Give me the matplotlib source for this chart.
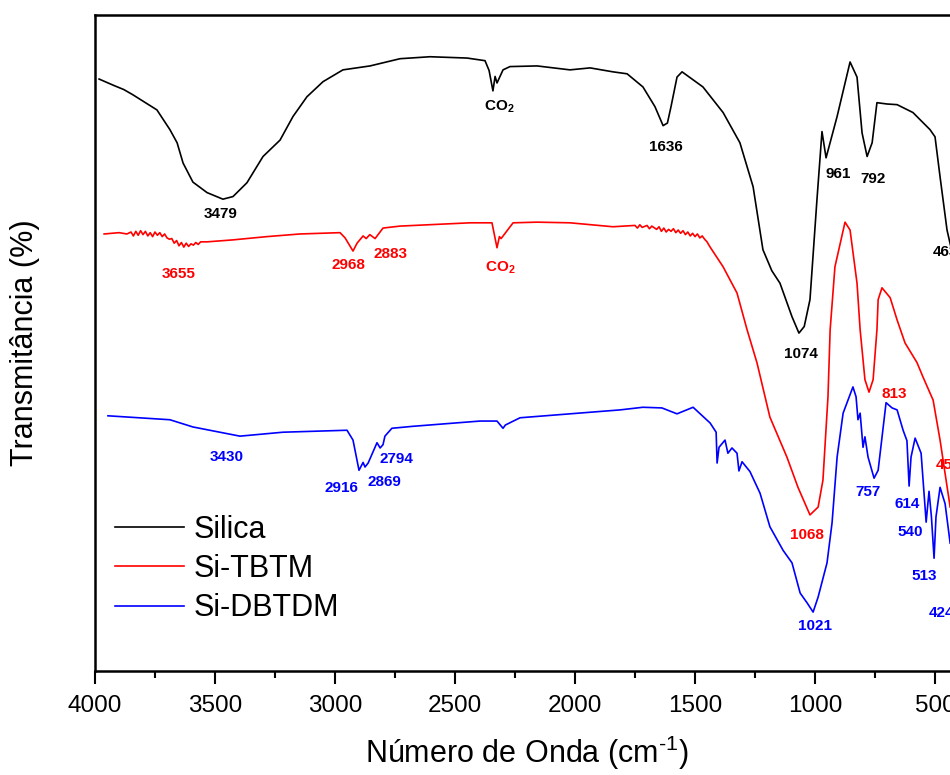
import numpy as np
import matplotlib
matplotlib.use("Agg")
import matplotlib.pyplot as plt
from matplotlib.ticker import MultipleLocator

plt.rcParams['font.family'] = ['Liberation Sans', 'DejaVu Sans']
plt.rcParams['mathtext.fontset'] = 'custom'
plt.rcParams['mathtext.rm'] = 'Liberation Sans'
plt.rcParams['mathtext.bf'] = 'Liberation Sans:bold'

# (wavenumber cm-1, transmittance in arbitrary %)
silica_pts = [
    (3983, 90.2), (3920, 89.2), (3880, 88.6), (3842, 87.8),
    (3742, 85.5), (3688, 82.5), (3658, 80.5), (3633, 77.4), (3592, 74.5), (3533, 72.9),
    (3467, 71.9), (3425, 72.3), (3367, 74.4), (3300, 78.4), (3229, 80.9), (3175, 84.5),
    (3117, 87.5), (3050, 89.8), (2967, 91.6), (2854, 92.2), (2729, 93.3), (2604, 93.6),
    (2450, 93.4), (2375, 93.0), (2358, 91.5), (2342, 88.4), (2333, 90.6), (2325, 89.6),
    (2300, 91.6), (2271, 92.1), (2158, 92.2), (2021, 91.6), (1937, 91.9), (1842, 91.3),
    (1783, 91.0), (1717, 89.0), (1667, 86.0), (1633, 83.1), (1615, 83.5), (1600, 86.0),
    (1575, 90.5), (1554, 91.3), (1467, 89.0), (1383, 85.1), (1313, 80.5), (1258, 73.8),
    (1217, 64.2), (1180, 61.0), (1146, 59.1), (1096, 54.0), (1067, 51.5), (1045, 52.5),
    (1021, 56.6), (992, 71.8), (971, 82.2), (954, 78.2), (908, 84.5), (854, 92.8),
    (825, 90.5), (804, 82.0), (783, 78.4), (762, 80.5), (742, 86.6), (700, 86.4),
    (658, 86.3), (592, 85.1), (521, 82.5), (500, 81.4), (479, 75.3), (450, 67.2), (430, 64.0),
]

tbtm_pts = [
    (3962, 66.6), (3900, 66.8), (3867, 66.6), (3850, 66.9), (3840, 66.3), (3830, 67.0),
    (3820, 66.4), (3810, 67.1), (3800, 66.5), (3790, 67.0), (3780, 66.3), (3770, 66.8),
    (3760, 66.2), (3750, 66.9), (3740, 66.4), (3730, 66.8), (3720, 66.2), (3710, 66.6),
    (3700, 66.0), (3690, 65.8), (3680, 65.9), (3670, 65.2), (3660, 65.6), (3650, 64.8),
    (3640, 65.3), (3630, 64.6), (3620, 65.2), (3610, 64.7), (3600, 65.1), (3590, 64.9),
    (3580, 65.3), (3570, 65.0), (3560, 65.4), (3533, 65.4), (3425, 65.7), (3283, 66.2),
    (3146, 66.6), (2979, 66.8), (2958, 66.0), (2925, 64.0), (2908, 65.2), (2883, 66.3),
    (2870, 65.9), (2855, 66.5), (2833, 65.9), (2800, 67.5), (2729, 67.8), (2437, 68.3),
    (2346, 68.3), (2325, 64.5), (2315, 66.2), (2308, 65.9), (2258, 68.3), (2158, 68.4),
    (2021, 68.3), (1842, 67.7), (1750, 67.9), (1740, 67.5), (1730, 68.0), (1720, 67.6),
    (1700, 67.9), (1690, 67.4), (1680, 67.8), (1660, 67.3), (1650, 67.7), (1640, 67.0),
    (1630, 67.5), (1620, 66.9), (1610, 67.3), (1600, 67.0), (1590, 67.4), (1580, 66.8),
    (1570, 67.2), (1560, 66.7), (1550, 67.1), (1540, 66.5), (1530, 66.9), (1520, 66.3),
    (1510, 66.7), (1500, 66.2), (1490, 66.6), (1480, 66.0), (1470, 66.3), (1460, 65.8),
    (1450, 65.4), (1437, 64.6), (1383, 61.6), (1325, 57.6), (1283, 52.0), (1242, 47.0),
    (1188, 38.7), (1117, 32.6), (1071, 28.0), (1021, 23.8), (987, 25.0), (967, 29.1),
    (946, 41.8), (937, 52.0), (917, 61.6), (875, 68.4), (854, 67.2), (825, 59.1),
    (812, 52.0), (792, 44.4), (775, 42.5), (758, 44.4), (742, 52.0), (737, 56.6),
    (721, 58.4), (687, 56.9), (658, 53.5), (625, 50.0), (575, 47.0), (550, 44.8),
    (508, 41.3), (479, 35.2), (437, 25.0),
]

dbtdm_pts = [
    (3946, 38.9), (3688, 38.3), (3592, 37.2), (3396, 35.8), (3217, 36.4), (2950, 36.7),
    (2925, 35.2), (2900, 30.6), (2883, 31.8), (2875, 31.1), (2862, 31.7), (2825, 34.8),
    (2812, 34.0), (2800, 34.5), (2792, 35.8), (2763, 37.0), (2675, 37.3), (2396, 38.1),
    (2325, 38.1), (2300, 37.0), (2290, 37.5), (2229, 38.6), (2021, 39.2), (1812, 39.8),
    (1717, 40.2), (1638, 40.1), (1575, 39.2), (1508, 40.2), (1437, 37.8), (1412, 36.4),
    (1408, 31.7), (1400, 34.1), (1375, 35.2), (1363, 33.2), (1346, 34.0), (1325, 33.2),
    (1317, 30.5), (1304, 31.9), (1271, 30.4), (1229, 27.1), (1188, 22.0), (1133, 18.4),
    (1096, 16.5), (1062, 11.9), (1033, 10.4), (1008, 9.0), (987, 11.3), (950, 16.5),
    (929, 22.6), (908, 32.6), (883, 39.3), (842, 43.3), (829, 41.8), (821, 38.3),
    (812, 39.3), (800, 34.1), (792, 35.7), (779, 32.6), (754, 29.4), (737, 30.6),
    (704, 40.9), (679, 40.1), (658, 39.8), (633, 36.7), (617, 35.1), (608, 28.2),
    (600, 32.6), (583, 35.5), (558, 33.2), (537, 22.7), (525, 27.4), (515, 23.5),
    (504, 17.2), (496, 23.5), (479, 28.0), (458, 25.5), (437, 19.5),
]

series_names = ['Silica', 'Si-TBTM', 'Si-DBTDM']
series_colors = ['black', '#ff0000', '#0000ff']

# peak labels: (text, wavenumber, transmittance, series index)
co2 = r'CO$_\mathbf{2}$'
peak_labels = [
    ('3479', 3475, 69.7, 0), (co2, 2317, 86.0, 0), ('1636', 1621, 79.9, 0),
    ('961', 904, 75.8, 0), ('792', 758, 75.0, 0), ('463', 458, 63.9, 0),
    ('1074', 1058, 48.3, 0),
    ('3655', 3650, 60.5, 1), ('2968', 2946, 61.9, 1), ('2883', 2767, 63.6, 1),
    (co2, 2312, 61.4, 1), ('1068', 1033, 20.7, 1), ('813', 671, 42.2, 1),
    ('457', 446, 31.4, 1),
    ('3430', 3450, 32.6, 2), ('2916', 2975, 27.9, 2), ('2869', 2796, 28.8, 2),
    ('2794', 2742, 32.3, 2), ('757', 779, 27.3, 2), ('614', 617, 25.5, 2),
    ('540', 604, 21.2, 2), ('513', 546, 14.5, 2), ('424', 475, 8.8, 2),
    ('1021', 1000, 6.9, 2),
]

fig = plt.figure(figsize=(9.5, 7.75), dpi=100)
ax = fig.add_axes([0.1, 0.134, 0.9095, 0.847])

for pts, name, col in zip([silica_pts, tbtm_pts, dbtdm_pts], series_names, series_colors):
    arr = np.array(pts)
    ax.plot(arr[:, 0], arr[:, 1], color=col, lw=1.2, label=name)

for txt, wn, t, i in peak_labels:
    ax.text(wn, t, txt, color=series_colors[i], fontsize=11, fontweight='bold',
            ha='center', va='center')

ax.set_xlim(4000, 400)
ax.set_ylim(0, 100)
ax.xaxis.set_major_locator(MultipleLocator(500))
ax.xaxis.set_minor_locator(MultipleLocator(250))
ax.tick_params(axis='x', which='major', direction='out', length=9, width=1.5,
               labelsize=17.5, pad=8)
ax.tick_params(axis='x', which='minor', direction='out', length=5, width=1.5)
ax.tick_params(axis='x', which='both', top=False)
ax.set_yticks([])
for s in ax.spines.values():
    s.set_linewidth(1.8)

ax.set_xlabel(r'Número de Onda (cm$^{\text{-1}}$)', fontsize=22, labelpad=12)
ax.set_ylabel('Transmitância (%)', fontsize=22)
ax.yaxis.set_label_coords(-0.064, 0.5)

ax.legend(loc='upper left', bbox_to_anchor=(0.023, 0.238), frameon=False,
          fontsize=22, handlelength=2.26, handletextpad=0.33, labelspacing=0.3,
          borderpad=0, borderaxespad=0)

fig.savefig('out.png', dpi=100)
